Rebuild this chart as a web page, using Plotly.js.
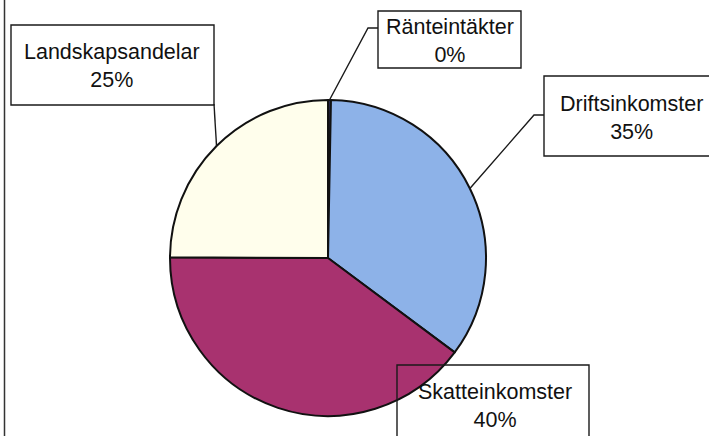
<!DOCTYPE html>
<html>
<head>
<meta charset="utf-8">
<script src="https://cdn.plot.ly/plotly-3.0.1.min.js"></script>
<style>html,body{margin:0;padding:0;background:#fff;}#chart{width:709px;height:436px;}</style>
</head>
<body>
<div id="chart"></div>
<script>
// Data
const labels = ['Ränteintäkter', 'Driftsinkomster', 'Skatteinkomster', 'Landskapsandelar'];
const values = [0.3, 35, 40, 25];
const colors = ['#2b2b55', '#8DB2E8', '#A8326F', '#FFFEEC'];

// Layout geometry (pixels)
const W = 709, H = 436;
const cx = 328, cy = 258, r = 158;
const px = x => x / W;
const py = y => 1 - y / H;

const total = values.reduce((a, b) => a + b, 0);
const pct = values.map(v => Math.round(v / total * 100));

// slice mid-point on the rim (clockwise from 12 o'clock)
let cum = 0;
const tips = values.map(v => {
  const mid = (cum + v / 2) / total;
  cum += v;
  const th = mid * 2 * Math.PI;
  return [cx + r * Math.sin(th), cy - r * Math.cos(th)];
});

const trace = {
  type: 'pie',
  labels: labels,
  values: values,
  sort: false,
  direction: 'clockwise',
  rotation: 0,
  textinfo: 'none',
  hoverinfo: 'label+percent',
  marker: { colors: colors, line: { color: '#111', width: 2 } },
  domain: { x: [px(cx - r), px(cx + r)], y: [py(cy + r), py(cy - r)] },
  showlegend: false
};

// label boxes [x0, y0, x1, y1] and text centre
const boxes = [
  { box: [378, 11, 521, 68], tc: [449.5, 41] },
  { box: [544, 76, 712, 156], tc: [631, 117.5] },
  { box: [397, 365, 589, 440], tc: [495, 405.5] },
  { box: [11, 25, 214, 105], tc: [112, 66] }
];

const lineStyle = { color: '#1a1a1a', width: 1.4 };
const shapes = [];
boxes.forEach(b => {
  shapes.push({
    type: 'rect', xref: 'paper', yref: 'paper', layer: 'above',
    x0: px(b.box[0]), x1: px(b.box[2]), y0: py(b.box[1]), y1: py(b.box[3]),
    line: lineStyle, fillcolor: 'rgba(0,0,0,0)'
  });
});

// leader lines: tip -> elbow -> box edge
const leaders = [
  [tips[0], [368, 28], [378, 28]],
  [tips[1], [534, 115], [544, 115]],
  [tips[3], [214, 104]]
];
leaders.forEach(pts => {
  const d = pts.map((p, i) => (i ? 'L' : 'M') + px(p[0]) + ',' + py(p[1])).join(' ');
  shapes.push({ type: 'path', xref: 'paper', yref: 'paper', layer: 'above', path: d, line: lineStyle });
});

// chart frame left edge
shapes.push({ type: 'line', xref: 'paper', yref: 'paper', x0: px(4.5), x1: px(4.5), y0: 0, y1: 1, line: { color: '#333', width: 1.5 } });

const annotations = labels.map((l, i) => ({
  xref: 'paper', yref: 'paper',
  x: px(boxes[i].tc[0]), y: py(boxes[i].tc[1]),
  xanchor: 'center', yanchor: 'middle',
  text: l + '<br>' + pct[i] + '%',
  showarrow: false,
  font: { family: 'Liberation Sans, Arial, sans-serif', size: 21.5, color: '#111' }
}));

const layout = {
  width: W, height: H,
  margin: { l: 0, r: 0, t: 0, b: 0 },
  paper_bgcolor: '#fff',
  shapes: shapes,
  annotations: annotations
};

Plotly.newPlot('chart', [trace], layout, { displayModeBar: false, staticPlot: true });
</script>
</body>
</html>
